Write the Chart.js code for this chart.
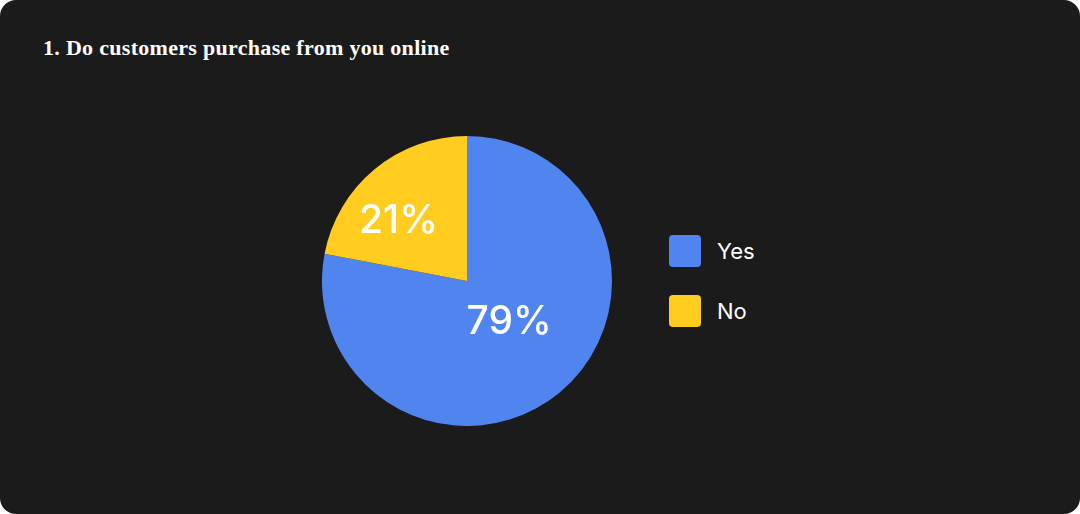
<!DOCTYPE html>
<html>
<head>
<meta charset="utf-8">
<script src="https://cdn.jsdelivr.net/npm/chart.js@4/dist/chart.umd.min.js"></script>
<style>
  html, body { margin:0; padding:0; background:#ffffff; }
  #card { position:absolute; left:0; top:0; width:1080px; height:514px; background:#1b1b1b; border-radius:16px; overflow:hidden; }
  #title { position:absolute; left:43px; top:35px; color:#ffffff; font-family:"Liberation Serif", serif; font-weight:bold; font-size:22px; letter-spacing:0.3px; white-space:nowrap; }
  #pieWrap { position:absolute; left:322px; top:136px; width:290px; height:290px; }
  #legend { position:absolute; left:669px; top:235px; font-family:"Inter", "Open Sans", sans-serif; font-size:22px; color:#ffffff; }
  .item { display:flex; align-items:center; height:32px; margin-bottom:28px; }
  .box { width:32px; height:32px; border-radius:4px; margin-right:16px; }
</style>
</head>
<body>
<div id="card">
  <div id="title">1. Do customers purchase from you online</div>
  <div id="pieWrap"><canvas id="c" width="290" height="290"></canvas></div>
  <div id="legend"></div>
</div>
<script>
const categories = ["Yes", "No"];
const values = [78, 22];
const labelsText = ["79%", "21%"];
const colors = ["#5085f0", "#ffcc1f"];

const legend = document.getElementById('legend');
categories.forEach((c, i) => {
  const it = document.createElement('div'); it.className = 'item';
  const b = document.createElement('div'); b.className = 'box'; b.style.background = colors[i];
  const t = document.createElement('span'); t.textContent = c;
  it.appendChild(b); it.appendChild(t); legend.appendChild(it);
});

const sliceLabels = {
  id: 'sliceLabels',
  afterDatasetsDraw(chart, args, opts) {
    const ctx = chart.ctx;
    const meta = chart.getDatasetMeta(0);
    ctx.save();
    ctx.fillStyle = '#ffffff';
    ctx.font = '500 39px "Inter", "Open Sans", sans-serif';
    ctx.textAlign = 'center';
    ctx.textBaseline = 'middle';
    meta.data.forEach((arc, i) => {
      const p = arc.getProps(['x','y','startAngle','endAngle','outerRadius'], true);
      const mid = (p.startAngle + p.endAngle) / 2 + opts.angleShift[i] * Math.PI / 180;
      const r = p.outerRadius * opts.fractions[i];
      ctx.fillText(labelsText[i], p.x + Math.cos(mid) * r, p.y + Math.sin(mid) * r + 1);
    });
    ctx.restore();
  }
};

new Chart(document.getElementById('c'), {
  type: 'pie',
  data: { labels: categories, datasets: [{ data: values, backgroundColor: colors, borderWidth: 0 }] },
  options: {
    responsive: false,
    animation: false,
    layout: { padding: 0 },
    plugins: {
      legend: { display: false },
      tooltip: { enabled: false },
      sliceLabels: { fractions: [0.4, 0.63], angleShift: [-7, -9] }
    }
  },
  plugins: [sliceLabels]
});
</script>
</body>
</html>
